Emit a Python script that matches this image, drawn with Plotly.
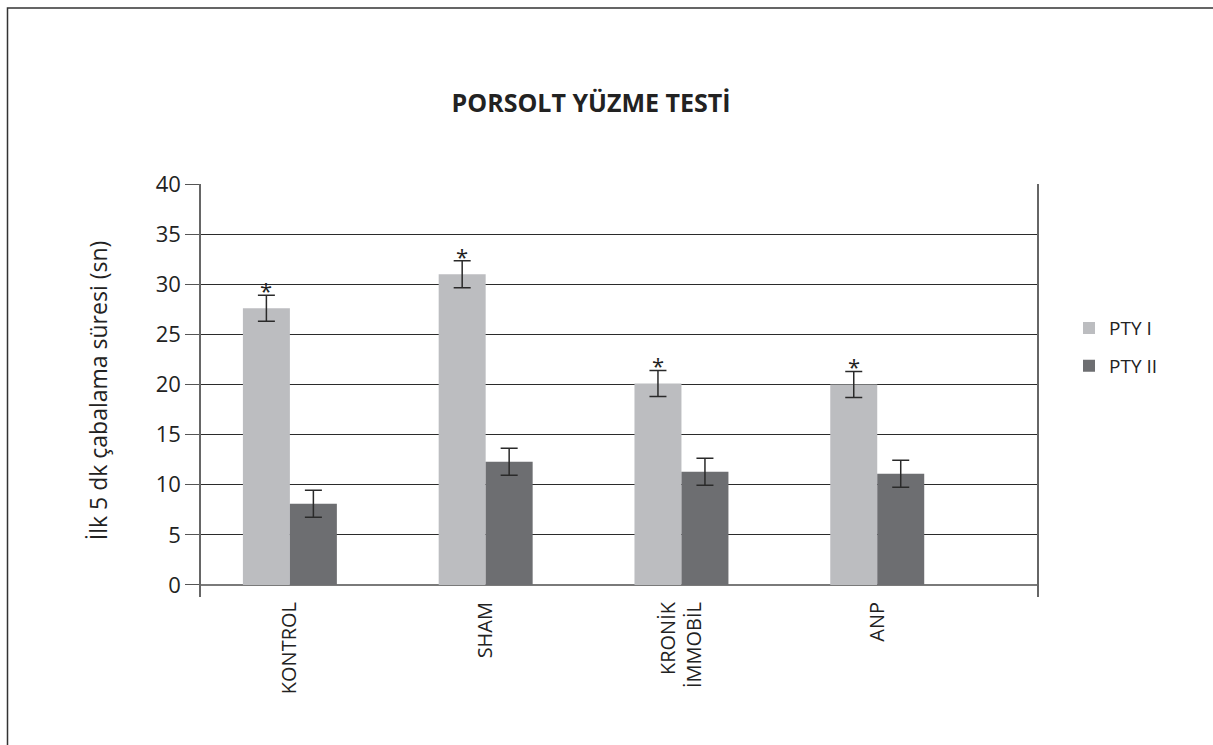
import plotly.graph_objects as go

# Groups and measured struggle times (seconds, first 5 minutes)
groups = ["KONTROL", "SHAM", "KRONİK<br>İMMOBİL", "ANP"]
pty1 = [27.6, 31.0, 20.1, 20.0]
pty1_err = [1.3, 1.35, 1.3, 1.3]
pty2 = [8.1, 12.3, 11.3, 11.1]
pty2_err = [1.35, 1.35, 1.35, 1.35]
sig_pty1 = [True, True, True, True]   # "*" markers over PTY I

y_ticks = [0, 5, 10, 15, 20, 25, 30, 35, 40]

FONT = "Open Sans"
C_LIGHT = "#bcbdc0"
C_DARK = "#6d6e71"
C_ERR = "#2a2a2a"

# layout geometry
W, H = 1213, 745
ML, MR, MT, MB = 201, 176, 184, 148
x_range = [-0.454, 3.816]
y_range = [-1.2, 40]
bargap = 0.52

fig = go.Figure()
for name, vals, errs, col in [("PTY I", pty1, pty1_err, C_LIGHT),
                              ("PTY II", pty2, pty2_err, C_DARK)]:
    fig.add_trace(go.Bar(
        x=groups, y=vals, name=name, marker=dict(color=col, line=dict(width=0)),
        error_y=dict(type="data", array=errs, visible=True, color=C_ERR,
                     thickness=1.5, width=8.5),
        legendgroup=name,
    ))

# significance asterisks above the PTY I error bars
plot_w = W - ML - MR
px_per_cat = plot_w / (x_range[1] - x_range[0])
bar_px = px_per_cat * (1 - bargap) / 2
for g, v, e, s in zip(groups, pty1, pty1_err, sig_pty1):
    if s:
        fig.add_annotation(x=g, y=v + e, xref="x", yref="y", text="*",
                           showarrow=False, xanchor="center", yanchor="bottom",
                           xshift=-bar_px / 2, yshift=-12,
                           font=dict(family=FONT, size=22, color="#222"))

# outer frame
fig.add_shape(type="rect", xref="paper", yref="paper",
              x0=(7.5 - ML) / plot_w, x1=(1230 - ML) / plot_w,
              y0=(H - MB - 760) / (H - MT - MB), y1=(H - MB - 8) / (H - MT - MB),
              line=dict(color="#333", width=1.5), fillcolor="rgba(0,0,0,0)", layer="below")

fig.update_layout(
    width=W, height=H,
    margin=dict(l=ML, r=MR, t=MT, b=MB, autoexpand=False),
    paper_bgcolor="white", plot_bgcolor="white",
    barmode="group", bargap=bargap, bargroupgap=0,
    font=dict(family=FONT, color="#222"),
    title=dict(text="<b>PORSOLT YÜZME TESTİ</b>", x=(591) / W, xanchor="center",
               y=1 - 103 / H, yanchor="middle",
               font=dict(family=FONT, size=25, color="#222")),
    legend=dict(x=(1069 - ML) / plot_w, xanchor="left", y=0.605, yanchor="middle",
                font=dict(family=FONT, size=19, color="#222"),
                traceorder="grouped", tracegroupgap=10, bgcolor="rgba(0,0,0,0)"),
    showlegend=True,
)

fig.update_xaxes(range=x_range, showgrid=False, showline=False, zeroline=False,
                 ticks="", tickangle=-90, tickfont=dict(family=FONT, size=20, color="#222"))
fig.update_yaxes(range=y_range, tickvals=y_ticks, ticktext=[str(t) for t in y_ticks],
                 showgrid=True, gridcolor="#2b2b2b", gridwidth=1,
                 zeroline=True, zerolinecolor="#7a7a7a", zerolinewidth=2,
                 showline=True, linecolor="#666", linewidth=1.5, mirror=True,
                 ticks="outside", ticklen=14, tickcolor="#555", tickwidth=1,
                 tickfont=dict(family=FONT, size=22, color="#222"),
                 title=dict(text="İlk 5 dk çabalama süresi (sn)", standoff=42,
                            font=dict(family=FONT, size=23, color="#222")))

fig.write_html("out.html")
